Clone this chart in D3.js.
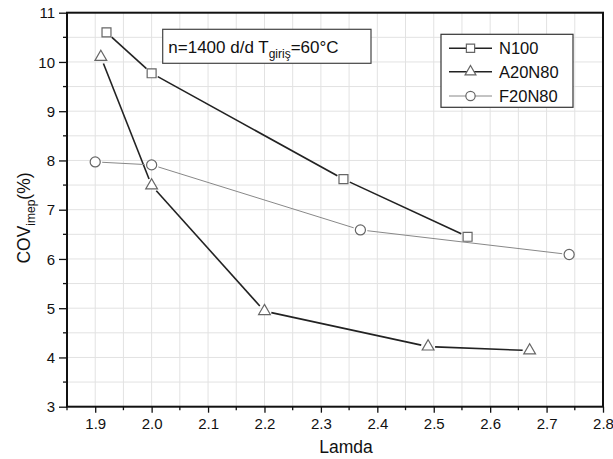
<!DOCTYPE html>
<head>
  <meta charset="utf-8">
  <script src="https://d3js.org/d3.v7.min.js"></script>
  <style>
    body { margin:0; background-color: #fff }
    svg text { font-family: "Liberation Sans", Arial, sans-serif; fill: #111 }
  </style>
</head>
<body>
<script>
  // data
  var n100X = [1.92, 2.00, 2.34, 2.56],
      n100Y = [10.6, 9.77, 7.62, 6.45];
  var a20X = [1.91, 2.00, 2.20, 2.49, 2.67],
      a20Y = [10.1, 7.49, 4.94, 4.22, 4.14];
  var f20X = [1.90, 2.00, 2.37, 2.74],
      f20Y = [7.97, 7.91, 6.59, 6.09];
  var xTicks = [1.9, 2.0, 2.1, 2.2, 2.3, 2.4, 2.5, 2.6, 2.7, 2.8],
      yTicks = [3, 4, 5, 6, 7, 8, 9, 10, 11];
  var seriesNames = ["N100", "A20N80", "F20N80"];

  var width = 613, height = 459;
  var margin = { top: 12.7, right: 10, bottom: 52.3, left: 67 };

  var svg = d3.select("body").append("svg")
      .attr("width", width)
      .attr("height", height);

  var x = d3.scaleLinear().domain([1.85, 2.8]).range([margin.left, 603]);
  var y = d3.scaleLinear().domain([3, 11]).range([height - margin.bottom, margin.top]);

  // grid (major + minor)
  var xGrid = d3.range(1.85, 2.8001, 0.05),
      yGrid = d3.range(3, 11.001, 0.5);
  svg.append("g").selectAll("line").data(xGrid).enter().append("line")
      .attr("x1", d => x(d)).attr("x2", d => x(d))
      .attr("y1", y(3)).attr("y2", y(11))
      .attr("stroke", "#e2e2e2").attr("stroke-width", 1);
  svg.append("g").selectAll("line").data(yGrid).enter().append("line")
      .attr("y1", d => y(d)).attr("y2", d => y(d))
      .attr("x1", x(1.85)).attr("x2", x(2.8))
      .attr("stroke", "#e2e2e2").attr("stroke-width", 1);

  // axes
  var xAxis = svg.append("g")
      .attr("transform", "translate(0," + y(3) + ")")
      .call(d3.axisBottom(x).tickValues(xTicks).tickFormat(d3.format(".1f")).tickSize(6).tickSizeOuter(0));
  var yAxis = svg.append("g")
      .attr("transform", "translate(" + x(1.85) + ",0)")
      .call(d3.axisLeft(y).tickValues(yTicks).tickFormat(d3.format("d")).tickSize(8).tickSizeOuter(0));
  [xAxis, yAxis].forEach(function(a) {
    a.select(".domain").remove();
    a.selectAll(".tick line").attr("stroke", "#111").attr("stroke-width", 1.3);
    a.selectAll("text").style("font-size", "15px").attr("fill", "#111");
  });
  xAxis.selectAll("text").attr("y", 9).attr("dy", "0.9em");
  yAxis.selectAll("text").attr("x", -12).attr("dy", "0.35em");

  // minor ticks
  svg.append("g").selectAll("line").data(d3.range(1.85, 2.8, 0.1)).enter().append("line")
      .attr("x1", d => x(d)).attr("x2", d => x(d))
      .attr("y1", y(3)).attr("y2", y(3) + 3.5)
      .attr("stroke", "#111").attr("stroke-width", 1.3);
  svg.append("g").selectAll("line").data(d3.range(3.5, 11, 1)).enter().append("line")
      .attr("y1", d => y(d)).attr("y2", d => y(d))
      .attr("x1", x(1.85)).attr("x2", x(1.85) - 4)
      .attr("stroke", "#111").attr("stroke-width", 1.3);

  // frame
  svg.append("rect")
      .attr("x", x(1.85)).attr("y", y(11))
      .attr("width", x(2.8) - x(1.85)).attr("height", y(3) - y(11))
      .attr("fill", "none").attr("stroke", "#111").attr("stroke-width", 2);

  // series
  var series = [
    { xs: n100X, ys: n100Y, shape: d3.symbolSquare, size: 80, color: "#222", lw: 1.6 },
    { xs: a20X, ys: a20Y, shape: d3.symbolTriangle, size: 60, color: "#222", lw: 1.6 },
    { xs: f20X, ys: f20Y, shape: d3.symbolCircle, size: 80, color: "#888", lw: 1 }
  ];
  var gap = 7;

  series.forEach(function(s) {
    var pts = s.xs.map((v, i) => [x(v), y(s.ys[i])]);
    var g = svg.append("g");
    // segments stopping short of the markers
    for (var i = 0; i < pts.length - 1; i++) {
      var p = pts[i], q = pts[i + 1];
      var dx = q[0] - p[0], dy = q[1] - p[1], len = Math.sqrt(dx * dx + dy * dy);
      var ux = dx / len, uy = dy / len;
      g.append("line")
        .attr("x1", p[0] + ux * gap).attr("y1", p[1] + uy * gap)
        .attr("x2", q[0] - ux * gap).attr("y2", q[1] - uy * gap)
        .attr("stroke", s.color).attr("stroke-width", s.lw);
    }
    g.selectAll("path").data(pts).enter().append("path")
      .attr("d", d3.symbol().type(s.shape).size(s.size))
      .attr("transform", d => "translate(" + d[0] + "," + d[1] + ")")
      .attr("fill", "#fff").attr("stroke", "#666").attr("stroke-width", 1.2);
  });

  // legend
  var legend = svg.append("g");
  legend.append("rect")
      .attr("x", 441).attr("y", 34.3).attr("width", 132).attr("height", 73)
      .attr("fill", "#fff").attr("stroke", "#333").attr("stroke-width", 1.2);
  var rowY = [48.3, 71.7, 96];
  series.forEach(function(s, i) {
    legend.append("line")
      .attr("x1", 449).attr("x2", 492).attr("y1", rowY[i]).attr("y2", rowY[i])
      .attr("stroke", s.color).attr("stroke-width", s.lw);
    legend.append("path")
      .attr("d", d3.symbol().type(s.shape).size(s.size * 0.85))
      .attr("transform", "translate(470.5," + rowY[i] + ")")
      .attr("fill", "#fff").attr("stroke", "#666").attr("stroke-width", 1.2);
    legend.append("text")
      .attr("x", 499).attr("y", rowY[i]).attr("dy", "0.36em")
      .style("font-size", "16.5px")
      .text(seriesNames[i]);
  });

  // annotation box
  svg.append("rect")
      .attr("x", 162.7).attr("y", 29.3).attr("width", 208.3).attr("height", 34)
      .attr("fill", "#fff").attr("stroke", "#444").attr("stroke-width", 1.2);
  var note = svg.append("text")
      .attr("x", 168.3).attr("y", 52.5)
      .style("font-size", "17px");
  note.append("tspan").text("n=1400 d/d T");
  note.append("tspan").attr("dy", 5).style("font-size", "12px").text("giriş");
  note.append("tspan").attr("dy", -5).text("=60°C");

  // axis titles
  svg.append("text")
      .attr("x", 346).attr("y", 453)
      .attr("text-anchor", "middle")
      .style("font-size", "17.5px")
      .text("Lamda");
  var yl = svg.append("text")
      .attr("transform", "translate(30,218) rotate(-90)")
      .attr("text-anchor", "middle")
      .style("font-size", "17.5px");
  yl.append("tspan").text("COV");
  yl.append("tspan").attr("dy", 5).style("font-size", "12px").text("imep");
  yl.append("tspan").attr("dy", -5).text("(%)");
</script>
</body>
